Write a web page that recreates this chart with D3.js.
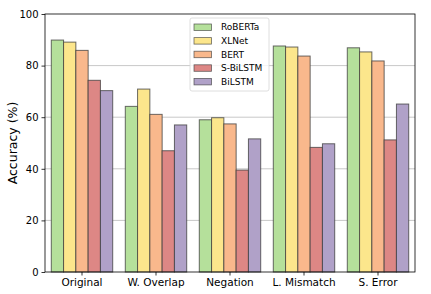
<!DOCTYPE html>
<html><head><meta charset="utf-8">
<script src="https://cdn.jsdelivr.net/npm/d3@7"></script>
<style>body{margin:0;background:#fff}svg{display:block}text{font-family:"DejaVu Sans",sans-serif}</style>
</head><body>
<script>
const categories = ["Original","W. Overlap","Negation","L. Mismatch","S. Error"];
const seriesNames = ["RoBERTa","XLNet","BERT","S-BiLSTM","BiLSTM"];
const roberta = [89.9, 64.2, 59.0, 87.6, 86.9];
const xlnet   = [89.1, 70.9, 59.8, 87.2, 85.3];
const bert    = [85.9, 61.1, 57.4, 83.7, 81.8];
const sbilstm = [74.3, 47.0, 39.5, 48.3, 51.2];
const bilstm  = [70.3, 57.0, 51.6, 49.7, 65.1];
const yTicks = [0, 20, 40, 60, 80, 100];
const colors = ["#b5e09b","#fce68c","#f9b88c","#dd8785","#b0a1c8"];

const series = [roberta, xlnet, bert, sbilstm, bilstm];
const W = 431, H = 294;
const L = 45, R = 415, T = 14, B = 272;
const svg = d3.select("body").append("svg").attr("width", W).attr("height", H);

const x = d3.scaleBand().domain(categories).range([L, R]).paddingInner(0.17).paddingOuter(0.085);
const xs = d3.scaleBand().domain(seriesNames).range([0, x.bandwidth()]);
const y = d3.scaleLinear().domain([0, 100]).range([B, T]);

// grid
svg.append("g").selectAll("line").data(yTicks.filter(t => t > 0 && t < 100)).join("line")
  .attr("x1", L).attr("x2", R).attr("y1", d => y(d)).attr("y2", d => y(d))
  .attr("stroke", "#c8c8c8").attr("stroke-width", 1);

// bars
const g = svg.append("g");
series.forEach((vals, si) => {
  g.selectAll(null).data(vals).join("rect")
    .attr("x", (d, i) => x(categories[i]) + xs(seriesNames[si]))
    .attr("y", d => y(d))
    .attr("width", xs.bandwidth())
    .attr("height", d => B - y(d))
    .attr("fill", colors[si])
    .attr("stroke", "#3a3a3a").attr("stroke-opacity", 0.75).attr("stroke-width", 1);
});

// axes
const yAxis = d3.axisLeft(y).tickValues(yTicks).tickSize(3.5).tickPadding(3);
const ya = svg.append("g").attr("transform", `translate(${L},0)`).call(yAxis);
ya.select(".domain").remove();
ya.selectAll("text").attr("font-size", 10).attr("fill", "#000").attr("font-family", "DejaVu Sans");
ya.selectAll("line").attr("stroke", "#000").attr("stroke-width", 0.8);

const xAxis = d3.axisBottom(x).tickSize(3.5).tickPadding(3);
const xa = svg.append("g").attr("transform", `translate(0,${B})`).call(xAxis);
xa.select(".domain").remove();
xa.selectAll("text").attr("font-size", 10.5).attr("fill", "#000").attr("font-family", "DejaVu Sans");
xa.selectAll("line").attr("stroke", "#000").attr("stroke-width", 0.8);

// frame
svg.append("rect").attr("x", L).attr("y", T).attr("width", R - L).attr("height", B - T)
  .attr("fill", "none").attr("stroke", "#000").attr("stroke-width", 0.8);

// y label
svg.append("text").attr("transform", `translate(17,${(T + B) / 2}) rotate(-90)`)
  .attr("text-anchor", "middle").attr("font-size", 12.5).text("Accuracy (%)");

// legend
const lg = svg.append("g").attr("transform", "translate(190,18)");
lg.append("rect").attr("x", 0).attr("y", 0).attr("width", 79).attr("height", 73).attr("rx", 2)
  .attr("fill", "#fff").attr("fill-opacity", 0.8).attr("stroke", "#d6d6d6").attr("stroke-width", 0.8);
seriesNames.forEach((n, i) => {
  const cy = 9 + i * 13.6;
  lg.append("rect").attr("x", 4).attr("y", cy - 3).attr("width", 17.5).attr("height", 6.5)
    .attr("fill", colors[i]).attr("stroke", "#3a3a3a").attr("stroke-opacity", 0.75).attr("stroke-width", 0.8);
  lg.append("text").attr("x", 31).attr("y", cy + 3.3).attr("font-size", 9).text(n);
});
</script>
</body></html>
